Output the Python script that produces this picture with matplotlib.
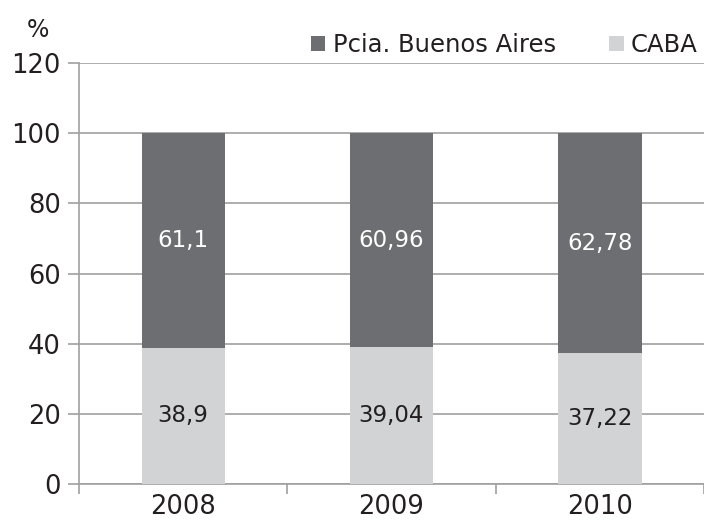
import matplotlib.pyplot as plt
import numpy as np

anios = ["2008", "2009", "2010"]
caba = [38.9, 39.04, 37.22]
pcia = [61.1, 60.96, 62.78]
etiquetas_caba = ["38,9", "39,04", "37,22"]
etiquetas_pcia = ["61,1", "60,96", "62,78"]

plt.rcParams['font.family'] = ['DejaVu Sans']
texto = '#231f20'
gris = '#a0a0a0'

fig = plt.figure(figsize=(7.04, 5.23), dpi=100)
ax = fig.add_axes([79/704, 1 - 484/523, 625/704, (484-63)/523])

x = np.arange(len(anios))
ancho = 0.4
b1 = ax.bar(x, caba, ancho, color='#d1d3d4', label='CABA', zorder=3)
b2 = ax.bar(x, pcia, ancho, bottom=caba, color='#6d6e71', label='Pcia. Buenos Aires', zorder=3)

for i in range(len(anios)):
    ax.text(x[i], caba[i] / 2, etiquetas_caba[i], ha='center', va='center',
            fontsize=16.5, color=texto, zorder=4)
    ax.text(x[i], caba[i] + pcia[i] / 2, etiquetas_pcia[i], ha='center', va='center',
            fontsize=16.5, color='white', zorder=4)

ax.set_xlim(-0.5, 2.5)
ax.set_ylim(0, 120)
ax.set_yticks(range(0, 121, 20))
ax.yaxis.grid(True, color=gris, linewidth=1.2, zorder=0)
ax.set_xticks(x)
ax.set_xticklabels(anios)
ax.set_xticks([-0.5, 0.5, 1.5, 2.5], minor=True)
ax.tick_params(axis='x', which='major', length=0, labelsize=18.5, colors=texto, pad=7)
ax.tick_params(axis='x', which='minor', length=7, width=1.2, color=gris)
ax.tick_params(axis='y', length=8, width=1.2, color=gris, labelsize=18.5, labelcolor=texto, pad=5)

for lado in ['top', 'right']:
    ax.spines[lado].set_visible(False)
for lado in ['left', 'bottom']:
    ax.spines[lado].set_color(gris)
    ax.spines[lado].set_linewidth(1.2)

fig.text(38/704, 1 - 30/523, '%', ha='center', va='center', fontsize=17, color=texto)

leg = ax.legend(handles=[b2, b1], loc='lower right', bbox_to_anchor=(1.0, 1.0),
                ncol=2, frameon=False, fontsize=17.5, handlelength=0.6, handleheight=0.6,
                handletextpad=0.3, columnspacing=2.2, borderaxespad=0.15, borderpad=0.1)
for t in leg.get_texts():
    t.set_color(texto)

fig.savefig('out.png', dpi=100)
